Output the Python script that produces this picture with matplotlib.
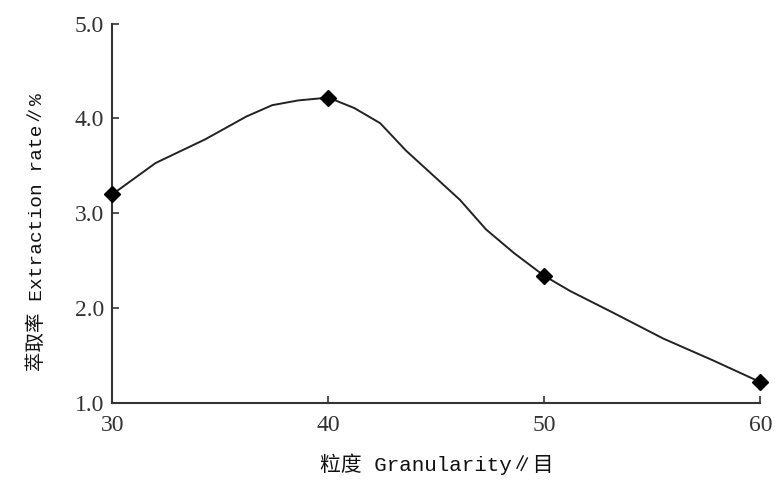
import matplotlib
matplotlib.use("Agg")
import matplotlib.pyplot as plt

# measured points
granularity = [30, 40, 50, 60]
extraction = [3.20, 4.22, 2.34, 1.22]

# smoothed curve
curve_x = [30, 32.0, 34.3, 36.2, 37.4, 38.6, 40, 41.2, 42.4, 43.6, 44.9, 46.1, 47.3, 48.6,
           50, 51.2, 53.2, 55.5, 57.8, 60]
curve_y = [3.20, 3.53, 3.78, 4.02, 4.14, 4.19, 4.22, 4.11, 3.95, 3.66, 3.39, 3.14, 2.83, 2.58,
           2.34, 2.18, 1.95, 1.68, 1.45, 1.22]

yticks = [1.0, 2.0, 3.0, 4.0, 5.0]
xticks = [30, 40, 50, 60]

fam = ['Liberation Mono', 'Noto Sans CJK SC']
plt.rcParams['font.family'] = ['Liberation Serif', 'Noto Sans CJK SC']

fig = plt.figure(figsize=(7.75, 4.82), dpi=100)
ax = fig.add_axes([0.145, 0.164, 0.836, 0.787])

ax.plot(curve_x, curve_y, color='#222222', lw=1.4, clip_on=False)
ax.plot(granularity, extraction, ls='none', marker='D', ms=8, color='black',
        clip_on=False, zorder=5)

ax.set_xlim(30, 60)
ax.set_ylim(1.0, 5.0)
ax.set_xticks(xticks)
ax.set_yticks(yticks)
ax.set_yticklabels(['%.1f' % v for v in yticks])
ax.tick_params(direction='in', length=5, width=1.2, labelsize=17, colors='#333333')
ax.tick_params(axis='y', pad=6)
ax.tick_params(axis='x', pad=9)
for s in ['top', 'right']:
    ax.spines[s].set_visible(False)
for s in ['left', 'bottom']:
    ax.spines[s].set_linewidth(1.5)
    ax.spines[s].set_color('#333333')

ax.set_xlabel('粒度 Granularity∥目', fontsize=15, color='#111111', labelpad=12,
              family=fam, weight='medium')
ax.set_ylabel('萃取率 Extraction rate∥%', fontsize=14, color='#111111',
              family=fam, weight='medium')
ax.yaxis.set_label_coords(-0.103, 0.45)

fig.savefig('out.png', dpi=100)
